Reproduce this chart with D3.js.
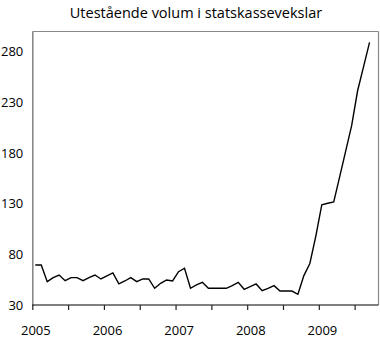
<!DOCTYPE html>
<html>
<head>
<meta charset="utf-8">
<style>
body { margin: 0; background: #fff; }
text { font-family: "Open Sans", sans-serif; fill: #000; }
</style>
</head>
<body>
<div id="chart"></div>
<script src="https://cdn.jsdelivr.net/npm/d3@7"></script>
<script>
// monthly values, Jan 2005 .. Sep 2009
var months = d3.range(57);
var volume = [69.5, 69.5, 53, 57, 59.6, 54, 57, 57, 54, 57, 59.6, 55.7,
    58.7, 61.6, 50.8, 53.7, 57, 53, 55.7, 55.7, 46.5, 51.4, 54.7, 53.7,
    62.9, 66.3, 46.5, 49.8, 52.4, 46.5, 46.5, 46.5, 46.5, 49.1, 52.4, 45.5,
    48.1, 50.8, 44.1, 46.5, 49.1, 43.8, 43.8, 43.8, 40.6, 59, 71,
    98, 129, 130.5, 131.7, 156.7, 181.9, 207, 241.5, 265.4, 289.2];
var yTicks = [30, 80, 130, 180, 230, 280];
var years = ["2005", "2006", "2007", "2008", "2009"];

var W = 380, H = 340;
var svg = d3.select("#chart").append("svg").attr("width", W).attr("height", H);

var x = d3.scaleLinear().domain([0, 58]).range([32.3, 378.5]);
var y = d3.scaleLinear().domain([30, 300]).range([305, 31.5]);

svg.append("text")
    .attr("x", 196).attr("y", 18)
    .attr("text-anchor", "middle")
    .style("font-size", "14.5px")
    .text("Utestående volum i statskassevekslar");

// frame
svg.append("line").attr("x1", x(0)).attr("x2", x(58)).attr("y1", y(300)).attr("y2", y(300))
    .attr("stroke", "#888").attr("stroke-width", 1.2);
svg.append("line").attr("x1", x(58)).attr("x2", x(58)).attr("y1", y(300)).attr("y2", y(30))
    .attr("stroke", "#888").attr("stroke-width", 1.2);

// y axis
var ya = svg.append("g").attr("transform", "translate(" + x(0) + ",0)")
    .call(d3.axisLeft(y).tickValues(yTicks).tickSize(0).tickPadding(9));
ya.select(".domain").attr("stroke", "#888").attr("stroke-width", 1.6);
ya.selectAll("text").style("font-size", "13px").style("font-family", "Open Sans, sans-serif");

// x axis, ticks every half year
var xa = svg.append("g").attr("transform", "translate(0," + y(30) + ")")
    .call(d3.axisBottom(x).tickValues(d3.range(0, 58, 6)).tickSize(5).tickFormat(""));
xa.select(".domain").attr("stroke", "#000").attr("stroke-width", 1.2).attr("d", "M" + x(0) + ",0H" + x(58));
xa.selectAll(".tick line").attr("stroke", "#222").attr("stroke-width", 1.2);

svg.selectAll(".yr")
    .data(years)
    .enter()
    .append("text")
    .attr("class", "yr")
    .attr("x", function (d, i) { return x(i * 12 + 0.6); })
    .attr("y", 335)
    .attr("text-anchor", "middle")
    .style("font-size", "13px")
    .text(function (d) { return d; });

var line = d3.line()
    .x(function (d) { return x(d + 0.5); })
    .y(function (d) { return y(volume[d]); });

svg.append("path")
    .datum(months)
    .attr("d", line)
    .attr("fill", "none")
    .attr("stroke", "#000")
    .attr("stroke-width", 1.4)
    .attr("stroke-linejoin", "miter");
</script>
</body>
</html>
